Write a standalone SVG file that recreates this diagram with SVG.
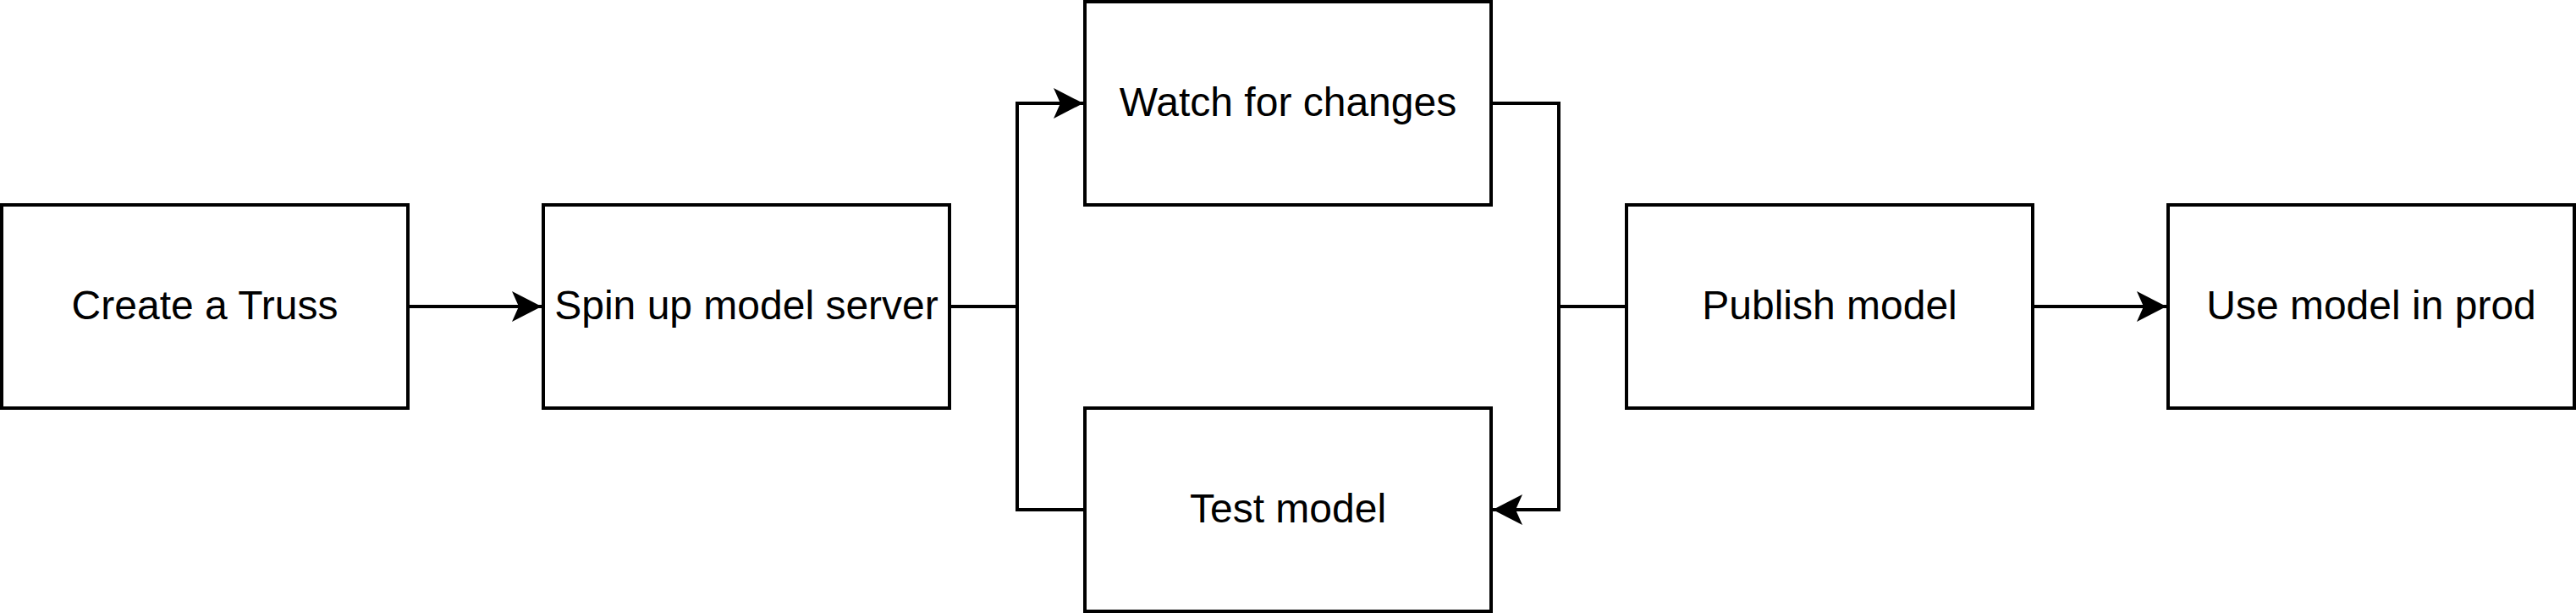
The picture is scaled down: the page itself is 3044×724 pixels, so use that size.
<svg xmlns="http://www.w3.org/2000/svg" width="3044" height="724" viewBox="0 0 3044 724">
  <style>
    .box { fill: #ffffff; stroke: #000000; stroke-width: 4; }
    .lbl { font-family: "Liberation Sans", Arial, sans-serif; font-size: 48px; fill: #000000; text-anchor: middle; }
    .edge { fill: none; stroke: #000000; stroke-width: 4; stroke-linejoin: miter; }
  </style>
  <defs>
    <marker id="arrow" markerUnits="userSpaceOnUse" viewBox="-36 -20 38 40" refX="0" refY="0" markerWidth="38" markerHeight="40" orient="auto" overflow="visible">
      <path d="M0,0 L-35,-18 L-27,0 L-35,18 Z" fill="#000000" stroke="none"/>
    </marker>
  </defs>
  <rect x="0" y="0" width="3044" height="724" fill="#ffffff"/>
  <g id="connectors">
    <path class="edge" d="M482,362 L640,362" marker-end="url(#arrow)"/>
    <path class="edge" d="M1122,362 L1202,362 L1202,122 L1280,122" marker-end="url(#arrow)"/>
    <path class="edge" d="M1282,602 L1202,602 L1202,362"/>
    <path class="edge" d="M1762,122 L1842,122 L1842,602 L1764,602" marker-end="url(#arrow)"/>
    <path class="edge" d="M1922,362 L1842,362"/>
    <path class="edge" d="M2402,362 L2560,362" marker-end="url(#arrow)"/>
  </g>
  <g id="node-create">
    <rect class="box" x="2" y="242" width="480" height="240"/>
    <text class="lbl" x="242" y="377">Create a Truss</text>
  </g>
  <g id="node-spin">
    <rect class="box" x="642" y="242" width="480" height="240"/>
    <text class="lbl" x="882" y="377">Spin up model server</text>
  </g>
  <g id="node-watch">
    <rect class="box" x="1282" y="2" width="480" height="240"/>
    <text class="lbl" x="1522" y="137">Watch for changes</text>
  </g>
  <g id="node-test">
    <rect class="box" x="1282" y="482" width="480" height="240"/>
    <text class="lbl" x="1522" y="617">Test model</text>
  </g>
  <g id="node-publish">
    <rect class="box" x="1922" y="242" width="480" height="240"/>
    <text class="lbl" x="2162" y="377">Publish model</text>
  </g>
  <g id="node-use">
    <rect class="box" x="2562" y="242" width="480" height="240"/>
    <text class="lbl" x="2802" y="377">Use model in prod</text>
  </g>
</svg>
